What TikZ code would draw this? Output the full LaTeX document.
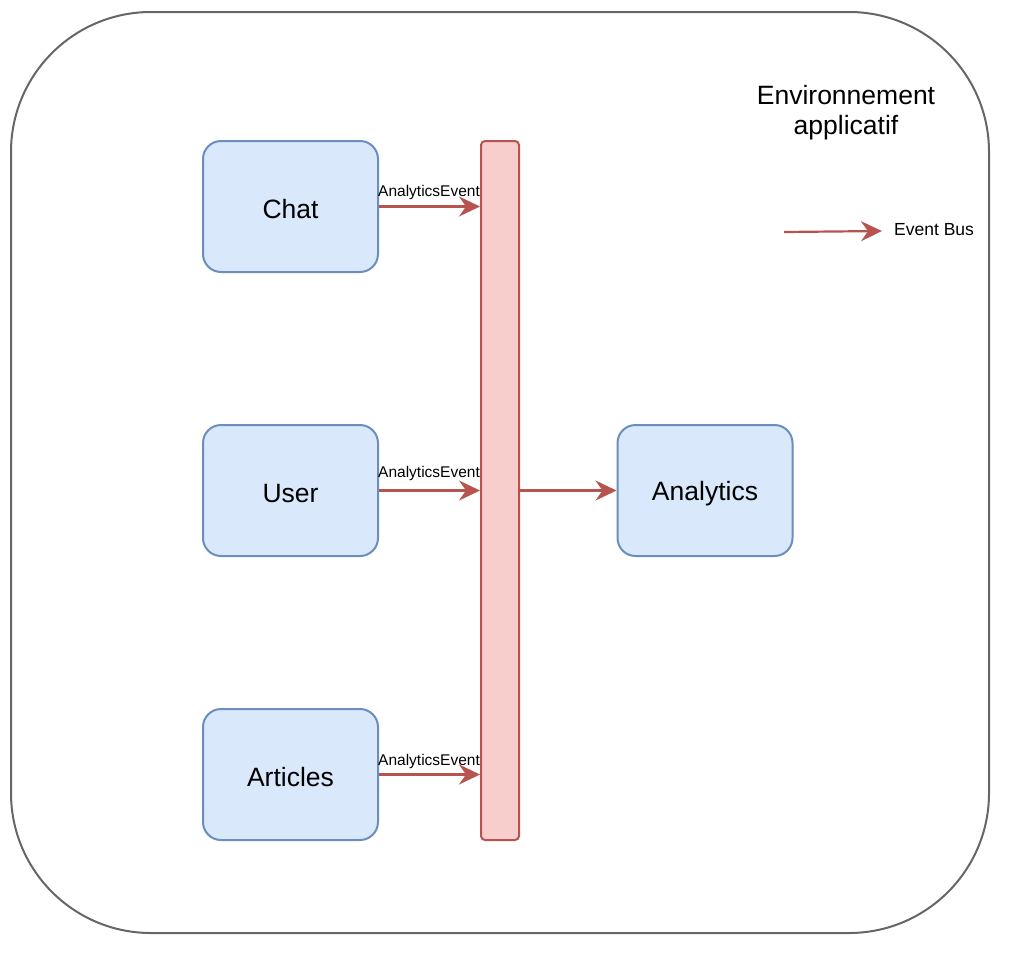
\documentclass[tikz,border=0pt]{standalone}
\usepackage{fontspec}
\setmainfont{Liberation Sans}
\usetikzlibrary{arrows.meta}
\definecolor{boxfill}{HTML}{DAE8FC}
\definecolor{boxline}{HTML}{6C8EBF}
\definecolor{busfill}{HTML}{F8CECC}
\definecolor{busline}{HTML}{B85450}
\definecolor{outerline}{HTML}{666666}
\newcommand{\lowtxt}[1]{\raisebox{-3pt}[\height][\depth]{#1}}
\tikzset{
  svc/.style={draw=boxline, fill=boxfill, line width=2pt, rounded corners=18pt,
    minimum width=175pt, minimum height=131pt, inner sep=0pt,
    font=\fontsize{26.5}{30}\selectfont},
  bus/.style={draw=busline, fill=busfill, line width=2pt, rounded corners=4pt,
    minimum width=38pt, minimum height=699pt, inner sep=0pt},
  evt/.style={draw=busline, line width=2.2pt, -{Stealth[length=21pt, width=20pt, inset=7pt]}},
  lbl/.style={font=\fontsize{15.5}{18}\selectfont, inner sep=0pt},
}
\begin{document}
\begin{tikzpicture}[x=1pt, y=-1pt]
\useasboundingbox (0,0) rectangle (1024,969);
\draw[outerline, line width=2pt, rounded corners=140pt] (11,12) rectangle (989,933);
\node[align=center, font=\fontsize{26.5}{30}\selectfont] (title) at (846,113) {Environnement\\applicatif};

\node[bus] (bus) at (500,490.5) {};
\node[svc] (chat) at (290.5,206.5) {\lowtxt{Chat}};
\node[svc] (user) at (290.5,490.5) {\lowtxt{User}};
\node[svc] (articles) at (290.5,774.5) {\lowtxt{Articles}};
\node[svc] (analytics) at (705,490.5) {\lowtxt{Analytics}};

\draw[evt] (chat.east) -- (bus.west |- chat.east);
\draw[evt] (user.east) -- (bus.west |- user.east);
\draw[evt] (articles.east) -- (bus.west |- articles.east);
\draw[evt] (bus.east |- analytics.west) -- (analytics.west);

\node[lbl] (l1) at (429,192) {AnalyticsEvent};
\node[lbl] (l2) at (429,473) {AnalyticsEvent};
\node[lbl] (l3) at (429,761) {AnalyticsEvent};

\coordinate (legA) at (784,232);
\coordinate (legB) at (882,231);
\draw[evt] (legA) -- (legB);
\node[font=\fontsize{17.5}{21}\selectfont, anchor=west, inner sep=0pt] (legend) at (894,229.5) {Event Bus};
\end{tikzpicture}
\end{document}
